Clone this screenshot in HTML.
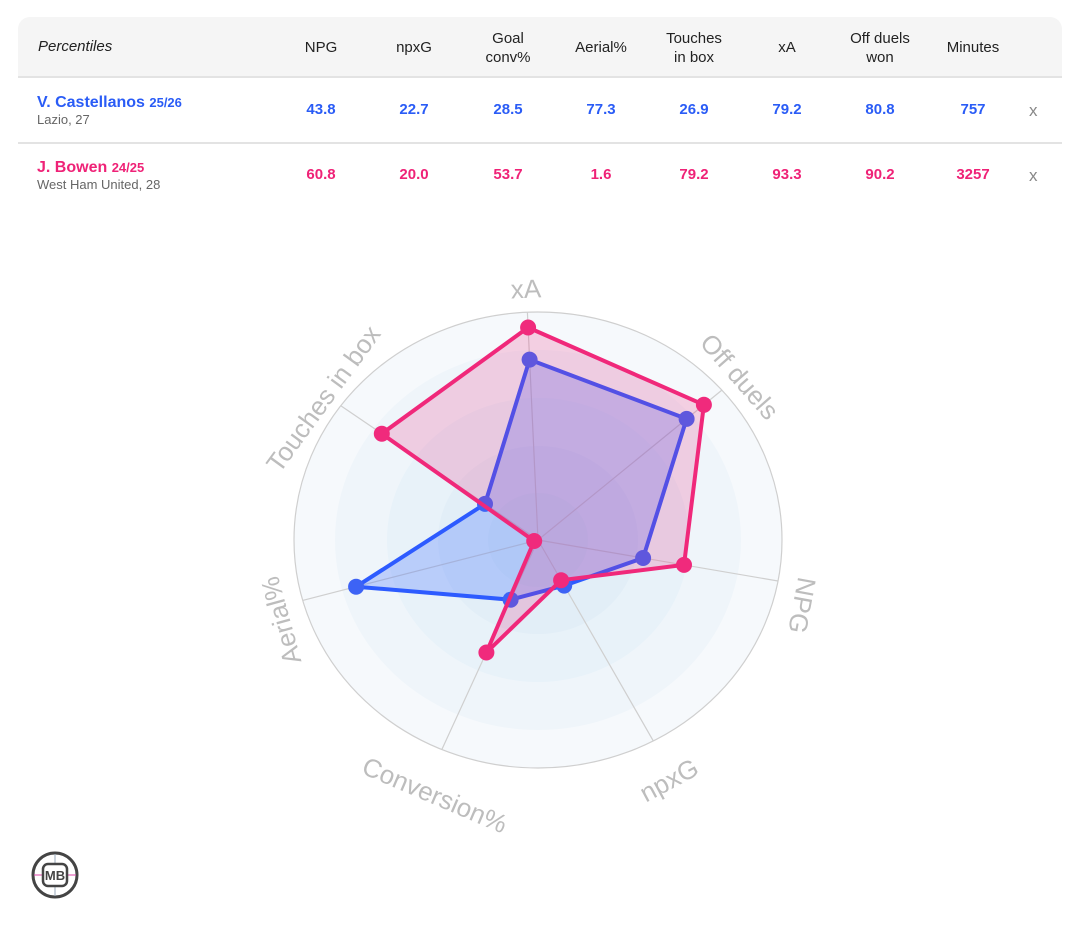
<!DOCTYPE html>
<html><head><meta charset="utf-8"><style>
body{margin:0;width:1080px;height:945px;background:#fff;font-family:"Liberation Sans",sans-serif;position:relative;overflow:hidden}
.card{position:absolute;left:18px;top:17px;width:1044px;height:190px}
.hdr{position:absolute;left:0;top:0;width:1044px;height:59px;background:#f5f5f5;border-radius:12px 12px 0 0;border-bottom:2px solid #e3e3e3}
.c{position:absolute;transform:translateX(-50%);text-align:center;font-size:15px;color:#222;line-height:19px}
.row{position:absolute;left:0;width:1044px;height:64px}
.v{position:absolute;transform:translateX(-50%);font-size:15px;font-weight:bold}
.nm{position:absolute;left:19px;font-size:16px;font-weight:bold}
.nm small{font-size:13px}
.sub{position:absolute;left:19px;font-size:13px;color:#666}
.x{position:absolute;left:1011px;font-size:17px;color:#888}
</style></head><body>
<div class="card">
<div class="hdr">
<div style="position:absolute;left:20px;top:21px;font-size:15px;font-style:italic;color:#222">Percentiles</div>
<div class="c" style="left:303px;top:21px">NPG</div>
<div class="c" style="left:396px;top:21px">npxG</div>
<div class="c" style="left:490px;top:12px">Goal<br>conv%</div>
<div class="c" style="left:583px;top:21px">Aerial%</div>
<div class="c" style="left:676px;top:12px">Touches<br>in box</div>
<div class="c" style="left:769px;top:21px">xA</div>
<div class="c" style="left:862px;top:12px">Off duels<br>won</div>
<div class="c" style="left:955px;top:21px">Minutes</div>
</div>
<div class="row" style="top:61px;border-bottom:2px solid #e3e3e3;color:#2a5cf6">
<div class="nm" style="top:16px">V. Castellanos <small>25/26</small></div>
<div class="sub" style="top:34px">Lazio, 27</div>
<div class="v" style="left:303px;top:23px">43.8</div><div class="v" style="left:396px;top:23px">22.7</div><div class="v" style="left:490px;top:23px">28.5</div><div class="v" style="left:583px;top:23px">77.3</div><div class="v" style="left:676px;top:23px">26.9</div><div class="v" style="left:769px;top:23px">79.2</div><div class="v" style="left:862px;top:23px">80.8</div><div class="v" style="left:955px;top:23px">757</div>
<div class="x" style="top:23px">x</div>
</div>
<div class="row" style="top:126px;color:#ef2277">
<div class="nm" style="top:16px">J. Bowen <small>24/25</small></div>
<div class="sub" style="top:34px">West Ham United, 28</div>
<div class="v" style="left:303px;top:23px">60.8</div><div class="v" style="left:396px;top:23px">20.0</div><div class="v" style="left:490px;top:23px">53.7</div><div class="v" style="left:583px;top:23px">1.6</div><div class="v" style="left:676px;top:23px">79.2</div><div class="v" style="left:769px;top:23px">93.3</div><div class="v" style="left:862px;top:23px">90.2</div><div class="v" style="left:955px;top:23px">3257</div>
<div class="x" style="top:23px">x</div>
</div>
</div>
<svg width="1080" height="945" style="position:absolute;left:0;top:0">
<g>
<ellipse cx="538" cy="540" rx="244" ry="228" fill="#f6f9fc" stroke="#cfcfcf" stroke-width="1.2"/>
<ellipse cx="538" cy="540" rx="203" ry="190" fill="#eff5fa"/>
<ellipse cx="538" cy="540" rx="151" ry="142" fill="#e8f2f9"/>
<ellipse cx="538" cy="540" rx="100" ry="94" fill="#e2eef7"/>
<ellipse cx="538" cy="540" rx="50" ry="47" fill="#ddebf5"/>
<g stroke="#cfcfcf" stroke-width="1.2">
<line x1="538" y1="540" x2="527.4" y2="312.2"/><line x1="538" y1="540" x2="721.9" y2="390.1"/><line x1="538" y1="540" x2="778" y2="581"/><line x1="538" y1="540" x2="653.3" y2="740.9"/><line x1="538" y1="540" x2="441.8" y2="749.6"/><line x1="538" y1="540" x2="302.7" y2="600.4"/><line x1="538" y1="540" x2="340.8" y2="405.7"/>
</g>
</g>
<g font-size="26" fill="#bdbdbd" text-anchor="middle" dominant-baseline="middle">
<text transform="translate(526,291) rotate(-2.5)">xA</text>
<text transform="translate(738,378) rotate(48.9)">Off duels</text>
<text transform="translate(800,605) rotate(100.4)">NPG</text>
<text transform="translate(670,782) rotate(-28.2)">npxG</text>
<text transform="translate(434,797) rotate(23.2)">Conversion%</text>
<text transform="translate(283,620) rotate(-105.4)">Aerial%</text>
<text transform="translate(325,400) rotate(-53.9)">Touches in box</text>
</g>
<polygon points="529.6,359.6 686.6,418.9 643.1,558 564.2,585.6 510.6,599.7 356.1,586.7 485,503.9" fill="rgba(45,95,255,0.25)" stroke="#2d5bff" stroke-width="4" stroke-linejoin="round"/>
<g fill="#3d63f5">
<circle cx="529.6" cy="359.6" r="8"/><circle cx="686.6" cy="418.9" r="8"/><circle cx="643.1" cy="558" r="8"/><circle cx="564.2" cy="605.6" r="0"/><circle cx="564.2" cy="585.6" r="8"/><circle cx="510.6" cy="599.7" r="8"/><circle cx="356.1" cy="586.7" r="8"/><circle cx="485" cy="503.9" r="8"/>
</g>
<polygon points="528.1,327.5 703.9,404.8 684,564.9 561.1,580.2 486.4,652.5 534.2,541 381.8,433.7" fill="rgba(235,40,125,0.2)" stroke="none"/>
<polygon points="528.1,327.5 703.9,404.8 684,564.9 561.1,580.2 486.4,652.5 534.2,541 381.8,433.7" fill="none" stroke="#f0287a" stroke-width="4" stroke-linejoin="round"/>
<g fill="#f02a7c">
<circle cx="528.1" cy="327.5" r="8"/><circle cx="703.9" cy="404.8" r="8"/><circle cx="684" cy="564.9" r="8"/><circle cx="561.1" cy="580.2" r="8"/><circle cx="486.4" cy="652.5" r="8"/><circle cx="534.2" cy="541" r="8"/><circle cx="381.8" cy="433.7" r="8"/>
</g>
<g transform="translate(55,875)">
<circle r="22" fill="#fff" stroke="#444" stroke-width="3"/>
<line x1="0" y1="-21" x2="0" y2="21" stroke="#9ab" stroke-width="1"/>
<line x1="-21" y1="0" x2="21" y2="0" stroke="#d4a" stroke-width="1"/>
<rect x="-12" y="-11" width="24" height="22" rx="5" fill="#fff" stroke="#444" stroke-width="2.5"/>
<text x="0" y="5" font-size="13" font-weight="bold" fill="#444" text-anchor="middle">MB</text>
</g>
</svg>
</body></html>
